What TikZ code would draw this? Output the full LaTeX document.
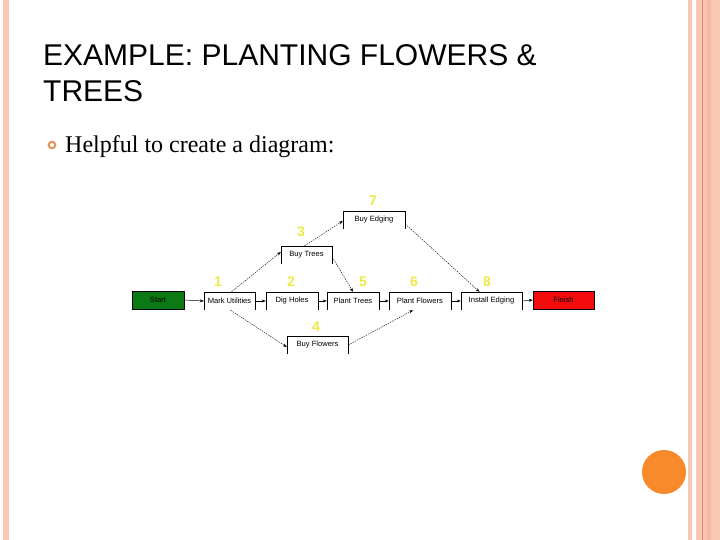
\documentclass[tikz,border=0pt]{standalone}
\usepackage{fontspec}
\setmainfont{Liberation Serif}
\newfontfamily\arialfont{Liberation Sans}
\usetikzlibrary{arrows.meta}
\definecolor{stripcol}{HTML}{F9C8B4}
\definecolor{stripdark}{HTML}{F5BAA3}
\definecolor{stripline}{HTML}{E58A62}
\definecolor{bulletcol}{HTML}{E8925A}
\definecolor{dotcol}{HTML}{F98A2C}
\definecolor{startcol}{HTML}{0B7A14}
\definecolor{finishcol}{HTML}{F20C0C}
\definecolor{numcol}{HTML}{EEEA45}
\tikzset{
  task/.style={minimum width=#1, minimum height=18pt, inner sep=0pt, font=\arialfont\fontsize{7.6}{8}\selectfont},
  endbox/.style={task=#1, draw=black, line width=0.4pt},
  num/.style={font=\arialfont\bfseries\fontsize{14}{14}\selectfont, text=numcol, inner sep=0pt},
  solidarrow/.style={-{Stealth[length=4pt,width=3pt]}, line width=0.5pt},
  dasharrow/.style={-{Stealth[length=4pt,width=3pt]}, line width=0.4pt, dash pattern=on 1.5pt off 1pt},
}
\begin{document}
\begin{tikzpicture}[x=1pt,y=-1pt]
\useasboundingbox (0,0) rectangle (720,540);
\fill[white] (0,0) rectangle (720,540);
% borders
\fill[stripcol] (3,0) rectangle (9,540);
\fill[stripcol] (688,0) rectangle (692,540);
\fill[stripcol] (696,0) rectangle (720,540);
\fill[stripdark] (707,0) rectangle (711,540);
\fill[stripline] (702,0) rectangle (703.2,540);
% orange dot
\fill[dotcol] (664,472) circle (22);
% title
\node[anchor=base west, inner sep=0pt, font=\arialfont\fontsize{30}{36}\selectfont] (t1) at (43,66) {EXAMPLE: PLANTING FLOWERS \&};
\node[anchor=base west, inner sep=0pt, font=\arialfont\fontsize{30}{36}\selectfont] (t2) at (43,102) {TREES};
% bullet
\draw[bulletcol, line width=2pt] (52,145) circle (3.3);
\node[anchor=base west, inner sep=0pt, font=\fontsize{24}{26}\selectfont] (b1) at (65,153) {Helpful to create a diagram:};
% nodes
\node[endbox=52pt, fill=startcol] (start) at (158,300) {Start};
\node[task=51pt] (mark) at (229.5,301) {Mark Utilities};
\node[task=52pt] (dig) at (292,301) {Dig Holes};
\node[task=52pt] (ptrees) at (353,301) {Plant Trees};
\node[task=62pt] (pflow) at (420,301) {Plant Flowers};
\node[task=61pt] (inst) at (491.5,301) {Install Edging};
\node[endbox=61pt, fill=finishcol] (finish) at (563.5,300) {Finish};
\node[task=51pt] (btrees) at (306.5,255) {Buy Trees};
\node[task=62pt] (bedge) at (374,220) {Buy Edging};
\node[task=61pt] (bflow) at (317.5,345) {Buy Flowers};
\foreach \n in {mark,dig,ptrees,pflow,inst,btrees,bedge,bflow}
  \draw[line width=0.5pt] (\n.south west) -- (\n.north west) -- (\n.north east) -- (\n.south east);
% numbers
\node[num] (n1) at (218,282) {1};
\node[num] (n2) at (291,282) {2};
\node[num] (n3) at (301,232) {3};
\node[num] (n4) at (316,327) {4};
\node[num] (n5) at (363,282) {5};
\node[num] (n6) at (414,282) {6};
\node[num] (n7) at (373,201) {7};
\node[num] (n8) at (487,282) {8};
% solid arrows
\draw[solidarrow] (start.east) -- (mark.west);
\draw[solidarrow] (mark.east) -- (dig.west);
\draw[solidarrow] (dig.east) -- (ptrees.west);
\draw[solidarrow] (ptrees.east) -- (pflow.west);
\draw[solidarrow] (pflow.east) -- (inst.west);
\draw[solidarrow] (inst.east) -- (finish.west);
% dashed arrows
\draw[dasharrow] ([xshift=2pt]mark.north) -- ([yshift=3pt]btrees.west);
\draw[dasharrow] ([xshift=-2pt]btrees.north) -- ([yshift=-1pt]bedge.west);
\draw[dasharrow] ([yshift=-2pt]btrees.east) -- (ptrees.north);
\draw[dasharrow] ([yshift=-4pt]bedge.east) -- ([xshift=-12pt]inst.north);
\draw[dasharrow] ([xshift=1pt]mark.south) -- ([yshift=-2pt]bflow.west);
\draw[dasharrow] ([yshift=0pt]bflow.east) -- ([xshift=-7pt]pflow.south);
\end{tikzpicture}
\end{document}
